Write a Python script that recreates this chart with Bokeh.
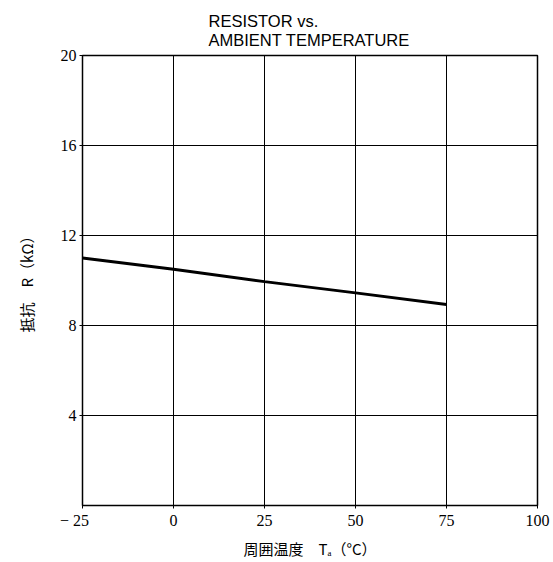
from bokeh.plotting import figure
from bokeh.models import FixedTicker
from bokeh.embed import file_html
from bokeh.resources import INLINE

temps = [-25, 0, 25, 50, 75]
resistance = [11.0, 10.5, 9.95, 9.45, 8.93]
x_ticks = [-25, 0, 25, 50, 75, 100]
y_ticks = [4, 8, 12, 16, 20]

p = figure(width=553, height=562, x_range=(-25, 100), y_range=(0, 20),
           output_backend="svg", toolbar_location=None,
           min_border_left=82, min_border_right=16, min_border_top=55, min_border_bottom=57)

p.title.text = "RESISTOR  vs.\nAMBIENT  TEMPERATURE"
p.title.align = "left"
p.title.offset = 126
p.title.text_font = "Liberation Sans"
p.title.text_font_size = "16.5px"
p.title.text_font_style = "normal"
p.title.text_color = "black"
p.title.text_line_height = 1.1
p.title.standoff = 12

p.line(temps, resistance, line_color="black", line_width=3)

for ax in (p.xaxis[0], p.yaxis[0]):
    ax.major_label_text_font = "Liberation Serif"
    ax.major_label_text_font_size = "16px"
    ax.major_label_text_color = "black"
    ax.axis_line_color = "black"
    ax.major_tick_line_color = "black"
    ax.major_tick_out = 3
    ax.major_tick_in = 0
    ax.minor_tick_line_color = None
    ax.major_label_standoff = 3
    ax.axis_label_text_font = "Noto Sans CJK JP"
    ax.axis_label_text_font_size = "15px"
    ax.axis_label_text_font_style = "normal"
    ax.axis_label_text_color = "black"

p.xaxis[0].ticker = FixedTicker(ticks=x_ticks)
p.yaxis[0].ticker = FixedTicker(ticks=y_ticks)
p.xaxis[0].major_label_overrides = {-25: "\u2212 25    "}
p.xaxis[0].axis_label = "周囲温度　Tₐ（°C）"
p.yaxis[0].axis_label = "抵抗　R（kΩ）"
p.xaxis[0].axis_label_standoff = 6
p.yaxis[0].axis_label_standoff = 21

p.xgrid[0].ticker = FixedTicker(ticks=x_ticks)
p.ygrid[0].ticker = FixedTicker(ticks=y_ticks)
p.xgrid.grid_line_color = "black"
p.ygrid.grid_line_color = "black"
p.xgrid.grid_line_width = 1
p.ygrid.grid_line_width = 1

p.outline_line_color = "black"
p.outline_line_width = 1.5
p.background_fill_color = "white"
p.border_fill_color = "white"

open("out.html", "w").write(file_html(p, INLINE))
